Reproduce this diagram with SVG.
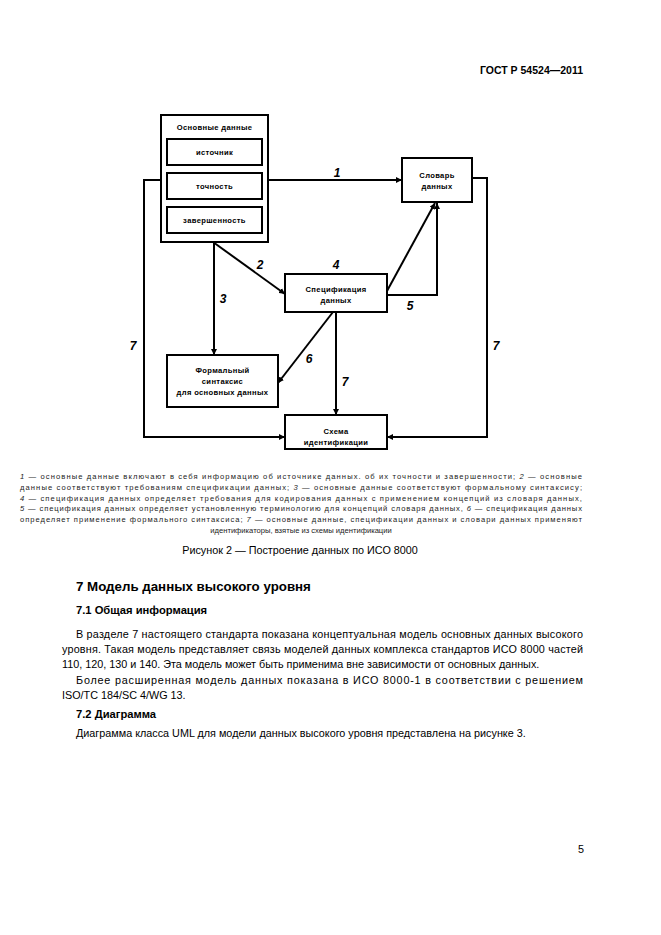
<svg xmlns="http://www.w3.org/2000/svg" width="661" height="935" viewBox="0 0 661 935">
<defs>
<marker id="ah" viewBox="0 0 10 10" refX="10" refY="5" markerWidth="6" markerHeight="6" markerUnits="userSpaceOnUse" orient="auto">
<path d="M0,0 L10,5 L0,10 z" fill="#000"/>
</marker>
<style>
.box{fill:#fff;stroke:#000;stroke-width:2}
.ln{fill:none;stroke:#000;stroke-width:2}
.bt{font-family:"Liberation Sans",Arial,sans-serif;font-size:7.6px;font-weight:bold;letter-spacing:0.35px;text-anchor:middle;fill:#000}
.num{font-family:"Liberation Sans",Arial,sans-serif;font-size:12px;font-weight:bold;font-style:italic;fill:#000;text-anchor:middle}
.lg{font-family:"Liberation Sans",Arial,sans-serif;font-size:7.6px;fill:#222}
.body{font-family:"Liberation Sans",Arial,sans-serif;font-size:10.8px;fill:#000}
.h{font-family:"Liberation Sans",Arial,sans-serif;font-weight:bold;fill:#000}
</style>
</defs>
<rect width="661" height="935" fill="#fff"/>
<text class="h" x="583" y="74" font-size="10.5" text-anchor="end">ГОСТ Р 54524—2011</text>

<g id="connectors">
<line class="ln" x1="268" y1="180" x2="402" y2="180" marker-end="url(#ah)"/>
<polyline class="ln" points="161,180 144,180 144,437 285,437" marker-end="url(#ah)"/>
<polyline class="ln" points="472,178 487,178 487,437 387,437" marker-end="url(#ah)"/>
<line class="ln" x1="213" y1="242" x2="285" y2="294" marker-end="url(#ah)"/>
<line class="ln" x1="214" y1="242" x2="214" y2="355" marker-end="url(#ah)"/>
<line class="ln" x1="333" y1="312" x2="278" y2="383" marker-end="url(#ah)"/>
<line class="ln" x1="336" y1="312" x2="336" y2="415" marker-end="url(#ah)"/>
<line class="ln" x1="387" y1="291" x2="435" y2="203" marker-end="url(#ah)"/>
<polyline class="ln" points="387,295 437,295 437,203" marker-end="url(#ah)"/>
<text class="num" x="337" y="177">1</text>
<text class="num" x="260" y="269">2</text>
<text class="num" x="223" y="303">3</text>
<text class="num" x="336" y="269">4</text>
<text class="num" x="410" y="310">5</text>
<text class="num" x="309" y="363">6</text>
<text class="num" x="345" y="386">7</text>
<text class="num" x="133" y="350">7</text>
<text class="num" x="496" y="350">7</text>
</g>

<g id="osnovnye">
<rect class="box" x="161" y="115" width="107" height="127"/>
<text class="bt" x="214.5" y="130">Основные данные</text>
</g>
<g id="istochnik">
<rect class="box" x="167" y="139" width="95" height="26"/>
<text class="bt" x="214.5" y="155">источник</text>
</g>
<g id="tochnost">
<rect class="box" x="167" y="173" width="95" height="26"/>
<text class="bt" x="214.5" y="189">точность</text>
</g>
<g id="zavershennost">
<rect class="box" x="167" y="207" width="95" height="26"/>
<text class="bt" x="214.5" y="223">завершенность</text>
</g>
<g id="slovar">
<rect class="box" x="402" y="158" width="70" height="44"/>
<text class="bt" x="437" y="178">Словарь</text>
<text class="bt" x="437" y="189">данных</text>
</g>
<g id="specifikaciya">
<rect class="box" x="285" y="274" width="102" height="38"/>
<text class="bt" x="336" y="292">Спецификация</text>
<text class="bt" x="336" y="303">данных</text>
</g>
<g id="formalny">
<rect class="box" x="167" y="355" width="111" height="52"/>
<text class="bt" x="222.5" y="373">Формальный</text>
<text class="bt" x="222.5" y="384">синтаксис</text>
<text class="bt" x="222.5" y="395">для основных данных</text>
</g>
<g id="skhema">
<rect class="box" x="285" y="415" width="102" height="34"/>
<text class="bt" x="336" y="434">Схема</text>
<text class="bt" x="336" y="445">идентификации</text>
</g>

<g id="legend">
<text class="lg" x="20" y="479" textLength="562" lengthAdjust="spacing"><tspan font-style="italic">1</tspan> — основные данные включают в себя информацию об источнике данных. об их точности и завершенности; <tspan font-style="italic">2</tspan> — основные</text>
<text class="lg" x="20" y="490" textLength="562" lengthAdjust="spacing">данные соответствуют требованиям спецификации данных; <tspan font-style="italic">3</tspan> — основные данные соответствуют формальному синтаксису;</text>
<text class="lg" x="20" y="500.5" textLength="562" lengthAdjust="spacing"><tspan font-style="italic">4</tspan> — спецификация данных определяет требования для кодирования данных с применением концепций из словаря данных,</text>
<text class="lg" x="20" y="511" textLength="562" lengthAdjust="spacing"><tspan font-style="italic">5</tspan> — спецификация данных определяет установленную терминологию для концепций словаря данных, <tspan font-style="italic">6</tspan> — спецификация данных</text>
<text class="lg" x="20" y="522" textLength="562" lengthAdjust="spacing">определяет применение формального синтаксиса; <tspan font-style="italic">7</tspan> — основные данные, спецификации данных и словари данных применяют</text>
<text class="lg" x="301" y="532.5" text-anchor="middle">идентификаторы, взятые из схемы идентификации</text>
<text class="body" x="300" y="554" font-size="8.6" text-anchor="middle">Рисунок 2 — Построение данных по ИСО 8000</text>
</g>

<g id="text">
<text class="h" x="76" y="591" font-size="13.3">7  Модель данных высокого уровня</text>
<text class="h" x="76" y="614" font-size="11.2">7.1  Общая информация</text>
<text class="body" x="76" y="638" textLength="507" lengthAdjust="spacing">В разделе 7 настоящего стандарта показана концептуальная модель основных данных высокого</text>
<text class="body" x="62" y="653" textLength="521" lengthAdjust="spacing">уровня. Такая модель представляет связь моделей данных комплекса стандартов ИСО 8000 частей</text>
<text class="body" x="62" y="668">110, 120, 130 и 140. Эта модель может быть применима вне зависимости от основных данных.</text>
<text class="body" x="76" y="684" textLength="507" lengthAdjust="spacing">Более расширенная модель данных показана в ИСО 8000-1 в соответствии с решением</text>
<text class="body" x="62" y="699">ISO/TC 184/SC 4/WG 13.</text>
<text class="h" x="76" y="718" font-size="11.2">7.2  Диаграмма</text>
<text class="body" x="76" y="737">Диаграмма класса UML для модели данных высокого уровня представлена на рисунке 3.</text>
<text class="body" x="578" y="853" font-size="10">5</text>
</g>
</svg>
